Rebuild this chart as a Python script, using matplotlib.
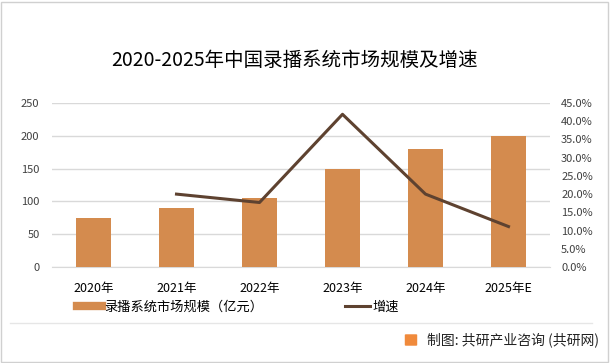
import matplotlib
matplotlib.use("Agg")
import matplotlib.pyplot as plt
from matplotlib.patches import FancyBboxPatch, Rectangle
from matplotlib.lines import Line2D

plt.rcParams['font.family'] = ['Noto Sans CJK SC', 'DejaVu Sans']

categories = ["2020年", "2021年", "2022年", "2023年", "2024年", "2025年E"]
market_size = [75, 90, 105, 150, 180, 200]
growth_years = ["2021年", "2022年", "2023年", "2024年", "2025年E"]
growth_rate = [20.0, 17.7, 41.9, 20.0, 11.1]
left_ticks = [0, 50, 100, 150, 200, 250]
right_ticks = [0, 5, 10, 15, 20, 25, 30, 35, 40, 45]

W, H = 610, 363
fig = plt.figure(figsize=(W / 100, H / 100), dpi=100)
fig.patch.set_facecolor("white")

# outer border
fig.add_artist(Rectangle((1 / W, 1 / H), 1 - 3 / W, 1 - 3 / H, transform=fig.transFigure,
                         fill=False, edgecolor="#d0d0d0", linewidth=1))

ax = fig.add_axes([52 / W, 1 - 267 / H, (550 - 52) / W, (267 - 103) / H])
x = list(range(len(categories)))
ax.bar(x, market_size, width=0.41, color="#d48b4e", zorder=3)
ax.set_ylim(0, 250)
ax.set_xlim(-0.5, len(categories) - 0.5)
ax.set_yticks(left_ticks)
ax.set_yticklabels([str(v) for v in left_ticks], fontsize=8, color="#404040")
ax.set_xticks(x)
ax.set_xticklabels(categories, fontsize=9, color="#000000")
ax.tick_params(axis="y", length=0, pad=9)
ax.tick_params(axis="x", length=0, pad=11)
ax.grid(axis="y", color="#d9d9d9", linewidth=1, zorder=0)
for s in ax.spines.values():
    s.set_visible(False)
ax.spines["bottom"].set_visible(True)
ax.spines["bottom"].set_color("#d9d9d9")

ax2 = ax.twinx()
gx = [categories.index(c) for c in growth_years]
ax2.plot(gx, growth_rate, color="#5e4230", linewidth=2.2, zorder=4)
ax2.set_ylim(0, 45)
ax2.set_yticks(right_ticks)
ax2.set_yticklabels([f"{v:.1f}%" for v in right_ticks], fontsize=8, color="#404040")
ax2.tick_params(axis="y", length=0, pad=8)
for s in ax2.spines.values():
    s.set_visible(False)

fig.text(295 / W, 1 - 60 / H, "2020-2025年中国录播系统市场规模及增速", fontsize=14,
         ha="center", va="center", color="#000000", fontweight="light")

# legend
h1 = Line2D([0], [0], color="#d48b4e", linewidth=6)
h2 = Line2D([0], [0], color="#5e4230", linewidth=2.2)
fig.legend([h1, h2], ["录播系统市场规模（亿元）", "增速"], loc="center",
           bbox_to_anchor=(238 / W, 1 - 307 / H), ncol=2, frameon=False, fontsize=9.5,
           handlelength=1.9, columnspacing=6.2, handletextpad=0.2)

# separator line and source
fig.add_artist(Line2D([10 / W, 592 / W], [1 - 323 / H, 1 - 323 / H], transform=fig.transFigure,
                      color="#e6e6e6", linewidth=1))
fig.add_artist(FancyBboxPatch((406 / W, 1 - 345 / H), 10 / W, 10 / H, boxstyle="round,pad=0.002",
                              transform=fig.transFigure, facecolor="#f08a3c", edgecolor="none"))
fig.text(427 / W, 1 - 340 / H, "制图: 共研产业咨询 (共研网)", fontsize=10, ha="left",
         va="center", color="#222222")

fig.savefig("out.png", dpi=100)
